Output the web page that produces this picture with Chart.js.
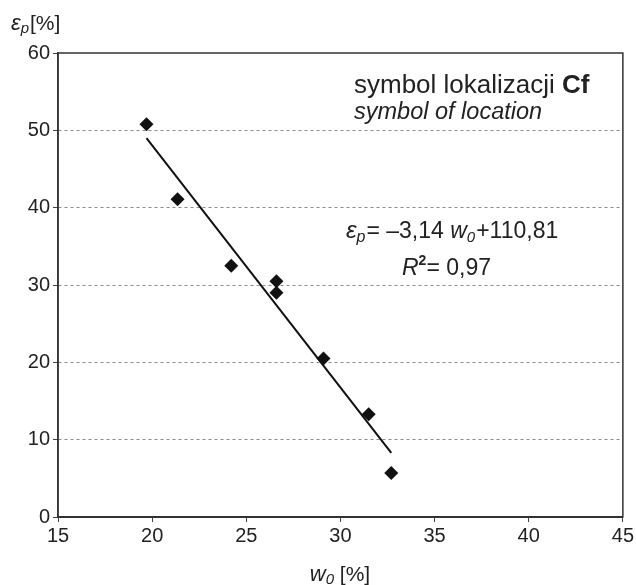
<!DOCTYPE html>
<html>
<head>
<meta charset="utf-8">
<script src="https://cdn.jsdelivr.net/npm/chart.js@4.4.1/dist/chart.umd.min.js"></script>
<style>
  html, body { margin: 0; padding: 0; background: #fff; }
  #wrap { width: 636px; height: 585px; position: relative; }
</style>
</head>
<body>
<div id="wrap"><canvas id="chart"></canvas></div>
<script>
// measured points: w0 [%] vs eps_p [%]
const wValues = [19.7, 21.35, 24.2, 26.6, 26.6, 29.1, 31.5, 32.7];
const epsValues = [50.8, 41.1, 32.5, 30.5, 29.0, 20.5, 13.3, 5.7];

// trend line ends as drawn in the figure
const fitW = [19.7, 32.7];
const fitEps = [49.0, 8.3];

const xTicks = [15, 20, 25, 30, 35, 40, 45];
const yTicks = [0, 10, 20, 30, 40, 50, 60];

const FONT = "'Liberation Sans', Arial, sans-serif";
const INK = '#222';

// draws a sequence of text runs (different fonts / offsets) from x,y
function drawRuns(ctx, x, y, runs, align) {
    ctx.save();
    ctx.fillStyle = INK;
    ctx.textBaseline = 'alphabetic';
    ctx.textAlign = 'left';
    let total = 0;
    runs.forEach(r => { ctx.font = r.font; total += ctx.measureText(r.t).width + (r.gap || 0); });
    let cx = align === 'center' ? x - total / 2 : x;
    runs.forEach(r => {
        ctx.font = r.font;
        ctx.fillText(r.t, cx, y + (r.dy || 0));
        cx += ctx.measureText(r.t).width + (r.gap || 0);
    });
    ctx.restore();
}

const textPlugin = {
    id: 'texts',
    afterDraw(chart) {
        const ctx = chart.ctx;
        const a = chart.chartArea;

        // frame round plot area
        ctx.save();
        ctx.strokeStyle = '#333';
        ctx.lineWidth = 1.5;
        ctx.strokeRect(a.left, a.top, a.right - a.left, a.bottom - a.top);
        ctx.restore();

        // y axis title
        drawRuns(ctx, 11, 30, [
            { t: 'ε', font: `italic 22px ${FONT}` },
            { t: 'p', font: `italic 15px ${FONT}`, dy: 3, gap: 1 },
            { t: '[%]', font: `21px ${FONT}` }
        ]);

        // x axis title
        drawRuns(ctx, 340, 581, [
            { t: 'w', font: `italic 22px ${FONT}` },
            { t: '0', font: `italic 15px ${FONT}`, dy: 3 },
            { t: ' [%]', font: `21px ${FONT}` }
        ], 'center');

        // legend note
        drawRuns(ctx, 354, 93, [
            { t: 'symbol lokalizacji ', font: `26px ${FONT}` },
            { t: 'Cf', font: `bold 26px ${FONT}` }
        ]);
        drawRuns(ctx, 354, 119, [
            { t: 'symbol of location', font: `italic 23.5px ${FONT}` }
        ]);

        // regression equation
        drawRuns(ctx, 346, 238, [
            { t: 'ε', font: `italic 24px ${FONT}` },
            { t: 'p', font: `italic 16px ${FONT}`, dy: 4, gap: 1 },
            { t: '= –3,14 ', font: `23px ${FONT}` },
            { t: 'w', font: `italic 23px ${FONT}` },
            { t: '0', font: `italic 15px ${FONT}`, dy: 4, gap: 1 },
            { t: '+110,81', font: `23px ${FONT}` }
        ]);
        drawRuns(ctx, 402, 275, [
            { t: 'R', font: `italic 23px ${FONT}` },
            { t: '2', font: `bold 14px ${FONT}`, dy: -10 },
            { t: '= 0,97', font: `23px ${FONT}` }
        ]);
    }
};

new Chart(document.getElementById('chart'), {
    type: 'scatter',
    data: {
        datasets: [
            {
                label: 'points',
                data: wValues.map((w, i) => ({ x: w, y: epsValues[i] })),
                pointStyle: 'rectRot',
                pointRadius: 7,
                backgroundColor: '#111',
                borderColor: '#111',
                borderWidth: 0,
                order: 1
            },
            {
                label: 'fit',
                type: 'line',
                data: fitW.map((w, i) => ({ x: w, y: fitEps[i] })),
                borderColor: '#111',
                borderWidth: 2,
                pointRadius: 0,
                fill: false,
                order: 2
            }
        ]
    },
    options: {
        responsive: true,
        maintainAspectRatio: false,
        animation: false,
        layout: { padding: { top: 53, right: 13, left: 0, bottom: 0 } },
        plugins: {
            legend: { display: false },
            tooltip: { enabled: false }
        },
        scales: {
            x: {
                type: 'linear',
                min: 15,
                max: 45,
                afterFit: s => { s.height = 68; },
                afterBuildTicks: s => { s.ticks = xTicks.map(v => ({ value: v })); },
                ticks: { color: INK, font: { family: FONT, size: 20 }, padding: 2 },
                grid: { drawOnChartArea: false, tickLength: 5, tickColor: '#444', tickWidth: 1 },
                border: { color: '#333', width: 2 }
            },
            y: {
                type: 'linear',
                min: 0,
                max: 60,
                afterFit: s => { s.width = 58; },
                afterBuildTicks: s => { s.ticks = yTicks.map(v => ({ value: v })); },
                ticks: { color: INK, font: { family: FONT, size: 20 }, padding: 3 },
                grid: {
                    color: c => (c.tick && (c.tick.value === 0 || c.tick.value === 60)) ? 'rgba(0,0,0,0)' : '#8a8a8a',
                    tickBorderDash: [],
                    tickLength: 5,
                    tickColor: '#444',
                    tickWidth: 1
                },
                border: { color: '#333', width: 1.5, dash: [3, 3] }
            }
        }
    },
    plugins: [textPlugin]
});
</script>
</body>
</html>
